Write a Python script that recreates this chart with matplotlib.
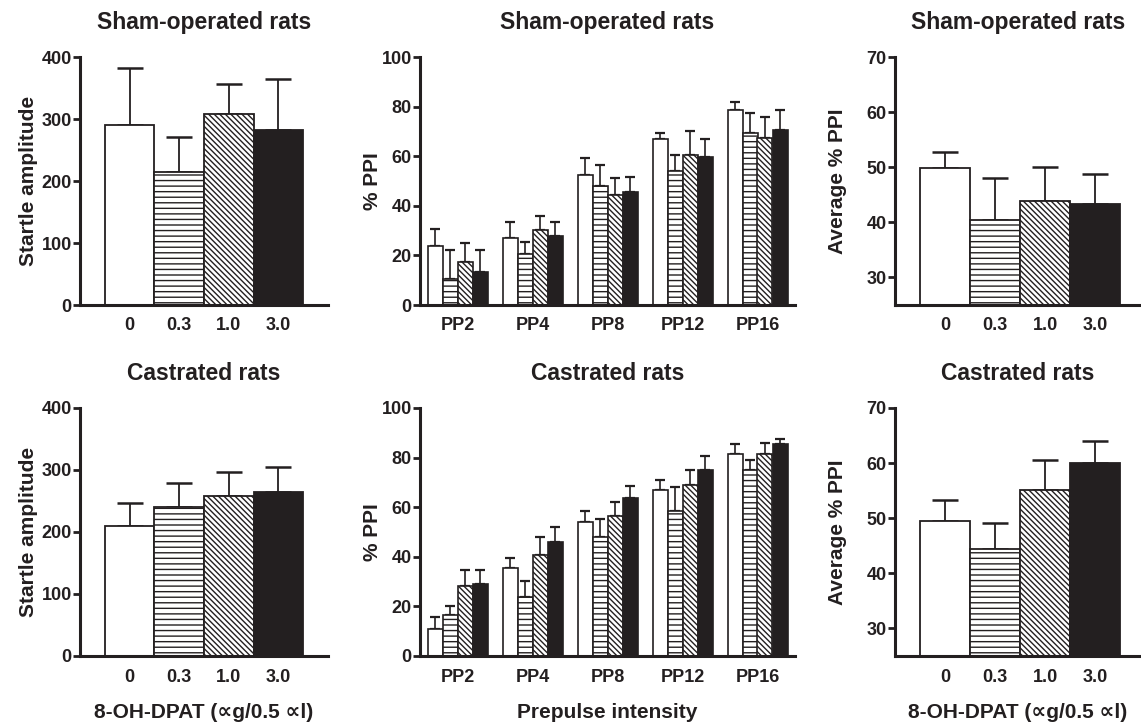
import numpy as np
import matplotlib.pyplot as plt

plt.rcParams['font.family'] = ['Liberation Sans', 'DejaVu Sans']
plt.rcParams['font.weight'] = 'bold'
plt.rcParams['axes.labelweight'] = 'bold'
plt.rcParams['hatch.linewidth'] = 1.0

INK = '#231f20'

doses = ['0', '0.3', '1.0', '3.0']
prepulses = ['PP2', 'PP4', 'PP8', 'PP12', 'PP16']

# startle amplitude (mean, sem) per dose
sham_startle = [290, 215, 308, 282]
sham_startle_sem = [92, 56, 48, 82]
cast_startle = [210, 240, 258, 264]
cast_startle_sem = [37, 39, 39, 41]

# %PPI, one row per dose, one column per prepulse
sham_ppi = [[23.6, 27.0, 52.6, 66.9, 78.6],
            [10.5, 20.6, 47.9, 53.9, 69.4],
            [17.4, 30.3, 44.2, 60.3, 67.4],
            [13.4, 27.9, 45.4, 59.7, 70.4]]
sham_ppi_sem = [[7.0, 6.6, 6.7, 2.5, 3.2],
                [11.8, 5.0, 8.4, 6.4, 7.9],
                [7.6, 5.6, 7.2, 9.8, 8.6],
                [8.9, 5.7, 6.3, 7.1, 8.2]]
cast_ppi = [[10.7, 35.4, 53.9, 67.1, 81.3],
            [16.4, 23.7, 48.1, 58.6, 74.9],
            [28.3, 40.8, 56.4, 68.9, 81.3],
            [29.0, 46.1, 63.8, 74.9, 85.6]]
cast_ppi_sem = [[5.1, 4.0, 4.5, 3.8, 4.3],
                [3.9, 6.6, 7.1, 9.4, 4.2],
                [6.2, 7.3, 5.8, 6.0, 4.5],
                [5.5, 5.9, 4.9, 5.6, 2.1]]

# average %PPI per dose
sham_avg = [49.9, 40.4, 43.9, 43.4]
sham_avg_sem = [2.9, 7.7, 6.2, 5.3]
cast_avg = [49.5, 44.5, 55.2, 60.0]
cast_avg_sem = [3.8, 4.6, 5.3, 4.1]

fills = ['white', 'white', 'white', INK]
hatches = [None, '---', '\\' * 6, None]

W, H = 1141, 724
fig = plt.figure(figsize=(W / 100, H / 100), dpi=100)


def px_axes(x0, x1, ytop, ybot):
    return fig.add_axes([x0 / W, 1 - ybot / H, (x1 - x0) / W, (ybot - ytop) / H])


def style(ax):
    for s in ['top', 'right']:
        ax.spines[s].set_visible(False)
    for s in ['left', 'bottom']:
        ax.spines[s].set_linewidth(2.2)
        ax.spines[s].set_color(INK)
    ax.tick_params(axis='y', length=5, width=2.0, labelsize=13, pad=1, colors=INK)
    ax.tick_params(axis='x', length=0, labelsize=13, pad=9, colors=INK)


def dose_panel(ax, vals, sem, ylim, yticks, ylabel, capsize):
    x = np.arange(len(doses))
    for i in range(len(doses)):
        ax.errorbar(x[i], vals[i], yerr=[[0], [sem[i]]], fmt='none', ecolor=INK,
                    elinewidth=1.3, capsize=capsize, capthick=1.8, zorder=1)
        ax.bar(x[i], vals[i], width=1.0, color=fills[i], edgecolor=INK,
               hatch=hatches[i], linewidth=1.3, zorder=2)
    ax.set_xlim(-1, 4)
    ax.set_ylim(*ylim)
    ax.set_yticks(yticks)
    ax.set_xticks(x)
    ax.set_xticklabels(doses)
    ax.set_ylabel(ylabel, fontsize=15, color=INK)
    style(ax)


def ppi_panel(ax, vals, sem):
    x = np.arange(len(prepulses))
    w = 0.2
    for i in range(len(doses)):
        xi = x + (i - 1.5) * w
        ax.errorbar(xi, vals[i], yerr=[np.zeros(len(x)), sem[i]], fmt='none',
                    ecolor=INK, elinewidth=1.2, capsize=3.5, capthick=1.6, zorder=1)
        ax.bar(xi, vals[i], width=w, color=fills[i], edgecolor=INK,
               hatch=hatches[i], linewidth=1.2, zorder=2)
    ax.set_xlim(-0.5, 4.5)
    ax.set_ylim(0, 100)
    ax.set_yticks([0, 20, 40, 60, 80, 100])
    ax.set_xticks(x)
    ax.set_xticklabels(prepulses)
    ax.set_ylabel('% PPI', fontsize=15, color=INK)
    style(ax)


xlab = '8-OH-DPAT (\u221dg/0.5 \u221dl)'
rows = [(57, 305, 'Sham-operated rats', sham_startle, sham_startle_sem,
         sham_ppi, sham_ppi_sem, sham_avg, sham_avg_sem),
        (408, 656, 'Castrated rats', cast_startle, cast_startle_sem,
         cast_ppi, cast_ppi_sem, cast_avg, cast_avg_sem)]

for r, (yt, yb, title, st, st_sem, ppi, ppi_sem, avg, avg_sem) in enumerate(rows):
    ax1 = px_axes(80, 328, yt, yb)
    dose_panel(ax1, st, st_sem, (0, 400), [0, 100, 200, 300, 400],
               'Startle amplitude', 9.5)
    ax1.yaxis.set_label_coords(-0.17, 0.5)
    ax2 = px_axes(420, 795, yt, yb)
    ppi_panel(ax2, ppi, ppi_sem)
    ax2.yaxis.set_label_coords(-0.10, 0.5)
    ax3 = px_axes(895, 1141, yt, yb)
    dose_panel(ax3, avg, avg_sem, (25, 70), [30, 40, 50, 60, 70],
               'Average % PPI', 9.5)
    ax3.set_xlim(-1, 3.92)
    ax3.yaxis.set_label_coords(-0.195, 0.5)
    for ax in (ax1, ax2, ax3):
        ax.set_title(title, fontsize=16.5, fontweight='bold', pad=20, color=INK)
    if r == 1:
        ax1.set_xlabel(xlab, fontsize=15, color=INK)
        ax2.set_xlabel('Prepulse intensity', fontsize=15, color=INK)
        ax3.set_xlabel(xlab, fontsize=15, color=INK)
        for ax in (ax1, ax2, ax3):
            ax.xaxis.set_label_coords(0.5, -0.19)

fig.savefig('out.png', dpi=100)
